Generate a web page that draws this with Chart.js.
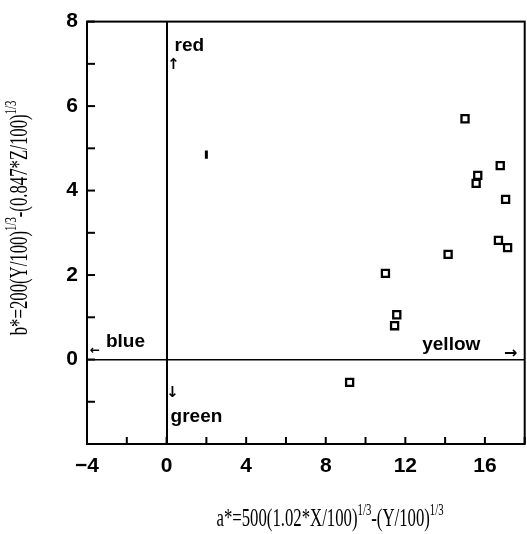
<!DOCTYPE html>
<html><head><meta charset="utf-8">
<script src="https://cdn.jsdelivr.net/npm/chart.js@4/dist/chart.umd.min.js"></script>
<style>html,body{margin:0;padding:0;background:#fff;overflow:hidden}canvas{display:block}</style>
</head><body>
<canvas id="c" width="532" height="534"></canvas>
<script>
// CIELAB chromaticity coordinates of the samples
const aStar = [15.0, 16.77, 15.64, 15.56, 17.04, 16.68, 17.14, 14.15, 11.0, 11.57, 11.46, 9.2];
const bStar = [5.70, 4.59, 4.36, 4.17, 3.79, 2.82, 2.65, 2.49, 2.04, 1.06, 0.80, -0.54];
// reference sample "1"
const refA = [2.0];
const refB = [4.85];
// labelled tick values
const xTickLabels = [-4, 0, 4, 8, 12, 16];
const yTickLabels = [0, 2, 4, 6, 8];

const tickFont = {family: 'Liberation Sans, Arial, sans-serif', size: 21, weight: 'bold'};

function fmt(v) { return v < 0 ? '\u2212' + Math.abs(v) : String(v); }

// Draws a title made of normal and superscript pieces, horizontally condensed
function drawTitle(ctx, parts, cx, cy, rot) {
  const base = '25px "Liberation Serif", serif';
  const sup = '16px "Liberation Serif", serif';
  const squeeze = 0.67;
  ctx.save();
  ctx.translate(cx, cy);
  ctx.rotate(rot);
  ctx.scale(squeeze, 1);
  let total = 0;
  parts.forEach(p => { ctx.font = p.sup ? sup : base; total += ctx.measureText(p.t).width; });
  let x = -total / 2;
  ctx.fillStyle = '#000';
  ctx.textBaseline = 'middle';
  ctx.textAlign = 'left';
  parts.forEach(p => {
    ctx.font = p.sup ? sup : base;
    ctx.fillText(p.t, x, p.sup ? -8 : 0);
    x += ctx.measureText(p.t).width;
  });
  ctx.restore();
}

const decor = {
  id: 'decor',
  afterDraw(chart) {
    const {ctx, chartArea: a, scales: {x, y}} = chart;
    ctx.save();
    ctx.strokeStyle = '#000';
    ctx.lineWidth = 2;
    ctx.strokeRect(a.left, a.top, a.right - a.left, a.bottom - a.top);
    // inward tick marks
    x.ticks.forEach(t => {
      const px = x.getPixelForValue(t.value);
      ctx.beginPath(); ctx.moveTo(px, a.bottom); ctx.lineTo(px, a.bottom - 7); ctx.stroke();
    });
    y.ticks.forEach(t => {
      const py = y.getPixelForValue(t.value);
      ctx.beginPath(); ctx.moveTo(a.left, py); ctx.lineTo(a.left + 8, py); ctx.stroke();
    });
    // colour direction labels
    ctx.fillStyle = '#000';
    ctx.textBaseline = 'middle';
    ctx.textAlign = 'left';
    ctx.font = 'bold 19px "Liberation Sans", Arial, sans-serif';
    const X = v => x.getPixelForValue(v), Y = v => y.getPixelForValue(v);
    ctx.fillText('red', X(0) + 8, Y(7.43));
    ctx.fillText('blue', X(-3.05), Y(0.42));
    ctx.fillText('green', X(0) + 4, Y(-1.35));
    ctx.fillText('yellow', X(12.85), Y(0.35));
    ctx.textAlign = 'center';
    ctx.font = 'bold 15px "DejaVu Sans", sans-serif';
    ctx.fillText('\u2191', X(0) + 7, Y(6.98));
    ctx.fillText('\u2193', X(0) + 6, Y(-0.8));
    ctx.font = 'bold 12px "DejaVu Sans", sans-serif';
    ctx.fillText('\u2190', X(-3.6), Y(0.2));
    ctx.font = 'bold 16px "DejaVu Sans", sans-serif';
    ctx.fillText('\u2192', X(17.3), Y(0.14));
    ctx.restore();
    // axis titles
    drawTitle(ctx, [
      {t: 'a*=500(1.02*X/100)'}, {t: '1/3', sup: true}, {t: '-(Y/100)'}, {t: '1/3', sup: true}
    ], 330, 519, 0);
    drawTitle(ctx, [
      {t: 'b*=200(Y/100)'}, {t: '1/3', sup: true}, {t: '-(0.847*Z/100)'}, {t: '1/3', sup: true}
    ], 20, 218, -Math.PI / 2);
  }
};

new Chart(document.getElementById('c'), {
  type: 'scatter',
  data: {
    datasets: [
      {
        data: aStar.map((v, i) => ({x: v, y: bStar[i]})),
        pointStyle: 'rect', pointRadius: 5, borderWidth: 2.3,
        borderColor: '#000', backgroundColor: '#fff'
      },
      {
        data: refA.map((v, i) => ({x: v, y: refB[i]})),
        pointStyle: 'line', rotation: 90, pointRadius: 4.2, borderWidth: 3,
        borderColor: '#000', backgroundColor: '#000'
      }
    ]
  },
  options: {
    responsive: false,
    animation: false,
    devicePixelRatio: 1,
    layout: {padding: {top: 20, right: 2, left: 0, bottom: 0}},
    plugins: {legend: {display: false}, tooltip: {enabled: false}},
    scales: {
      x: {
        type: 'linear', min: -4, max: 18,
        afterFit: s => { s.height = 90; s.paddingRight = 0; s.paddingLeft = 0; },
        border: {display: false},
        grid: {
          drawTicks: false,
          color: c => c.tick && c.tick.value === 0 ? '#000' : 'rgba(0,0,0,0)',
          lineWidth: 2
        },
        ticks: {
          stepSize: 2, autoSkip: false, maxRotation: 0, padding: 10,
          color: '#000', font: tickFont,
          callback: v => xTickLabels.includes(v) ? fmt(v) : ''
        }
      },
      y: {
        type: 'linear', min: -2, max: 8,
        afterFit: s => { s.width = 87; },
        border: {display: false},
        grid: {
          drawTicks: false,
          color: c => c.tick && c.tick.value === 0 ? '#000' : 'rgba(0,0,0,0)',
          lineWidth: 1.5
        },
        ticks: {
          stepSize: 1, autoSkip: false, padding: 9,
          color: '#000', font: tickFont,
          callback: v => yTickLabels.includes(v) ? fmt(v) : ''
        }
      }
    }
  },
  plugins: [decor]
});
</script>
</body></html>
